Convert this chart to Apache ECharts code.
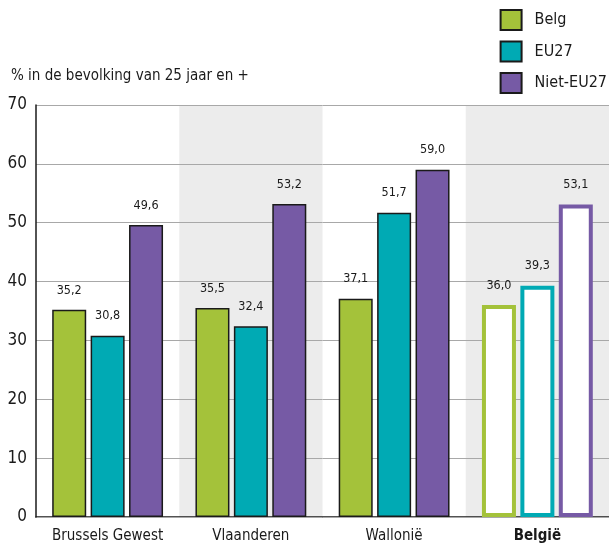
<!DOCTYPE html>
<html>
<head>
<meta charset="utf-8">
<script src="https://cdn.jsdelivr.net/npm/echarts@6/dist/echarts.min.js"></script>
<style>
html,body{margin:0;padding:0;background:#fff;}
#chart{width:609px;height:547px;}
</style>
</head>
<body>
<div id="chart"></div>
<script>
const categories = ['Brussels Gewest', 'Vlaanderen', 'Wallonië', 'België'];
const seriesNames = ['Belg', 'EU27', 'Niet-EU27'];
const belg = [35.2, 35.5, 37.1, 36.0];
const eu27 = [30.8, 32.4, 51.7, 39.3];
const nietEu27 = [49.6, 53.2, 59.0, 53.1];
const yTicks = [0, 10, 20, 30, 40, 50, 60, 70];
const axisTitle = '% in de bevolking van 25 jaar en +';

const colors = ['#a4c23a', '#00aab4', '#765aa5'];
const FONT = '"DejaVu Sans", sans-serif';
const STYLE = 'condensed';
const valuesList = [belg, eu27, nietEu27];

const chart = echarts.init(document.getElementById('chart'));

const series = seriesNames.map((name, si) => ({
  name: name,
  type: 'bar',
  barWidth: 34,
  barGap: '13%',
  itemStyle: { color: colors[si], borderColor: '#1a1a1a', borderWidth: 1.5 },
  label: {
    show: true,
    position: 'top',
    distance: 13,
    color: '#1a1a1a',
    fontFamily: FONT,
    fontStyle: STYLE,
    fontSize: 12.5,
    formatter: p => p.value.toFixed(1).replace('.', ',')
  },
  data: valuesList[si].map((v, i) => i === categories.length - 1
    ? { value: v, itemStyle: { color: '#ffffff', borderColor: colors[si], borderWidth: 4 } }
    : v)
}));

chart.setOption({
  animation: false,
  color: colors,
  title: {
    text: axisTitle,
    left: 11,
    top: 69,
    padding: 0,
    textStyle: { fontFamily: FONT, fontStyle: STYLE, fontSize: 15, fontWeight: 'normal', color: '#1a1a1a' }
  },
  legend: {
    orient: 'vertical',
    right: 2,
    top: 9,
    padding: 0,
    itemWidth: 21,
    itemHeight: 20,
    itemGap: 9.5,
    icon: 'rect',
    textStyle: { fontFamily: FONT, fontStyle: STYLE, fontSize: 16, color: '#1a1a1a', padding: [0, 0, 0, 8] },
    data: seriesNames
  },
  grid: { left: 36, right: 0, top: 105, bottom: 30, containLabel: false },
  xAxis: {
    type: 'category',
    data: categories,
    axisLine: { show: true, lineStyle: { color: '#1a1a1a', width: 1.5 } },
    axisTick: { show: false, interval: 0 },
    axisLabel: {
      interval: 0,
      margin: 12,
      fontFamily: FONT,
      fontStyle: STYLE,
      fontSize: 15,
      color: '#1a1a1a',
      formatter: (v, i) => i === categories.length - 1 ? '{b|' + v + '}' : v,
      rich: { b: { fontFamily: FONT, fontStyle: STYLE, fontSize: 15, fontWeight: 'bold', color: '#1a1a1a' } }
    },
    splitArea: { show: true, interval: 0, areaStyle: { color: ['rgba(255,255,255,0)', '#ececec'] } },
    z: 0
  },
  yAxis: {
    type: 'value',
    min: yTicks[0],
    max: yTicks[yTicks.length - 1],
    interval: yTicks[1] - yTicks[0],
    axisLine: { show: true, lineStyle: { color: '#1a1a1a', width: 1.5 } },
    axisTick: { show: false },
    axisLabel: { margin: 9, fontFamily: FONT, fontStyle: STYLE, fontSize: 17, color: '#1a1a1a' },
    splitLine: { show: true, lineStyle: { color: '#a8a8a8', width: 1 } },
    z: 1
  },
  series: series
});
</script>
</body>
</html>
